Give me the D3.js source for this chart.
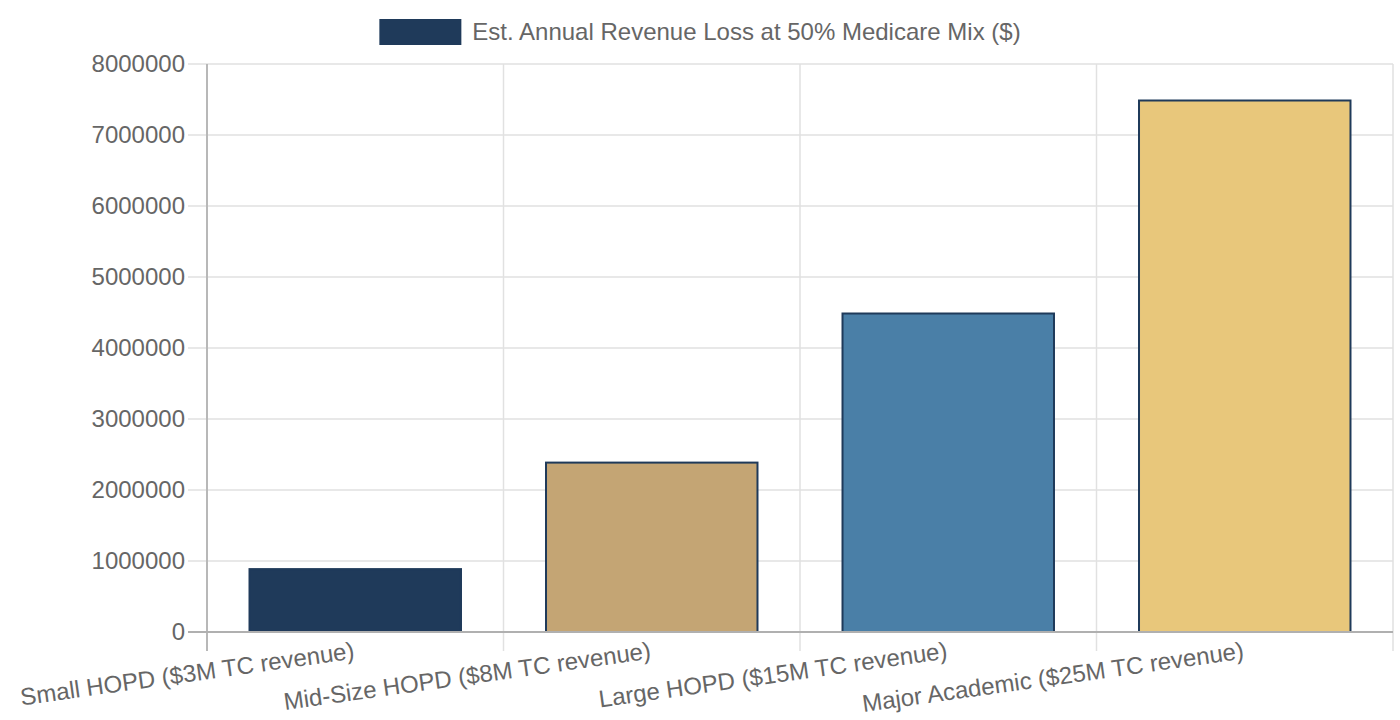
<!DOCTYPE html>
<html>
<head>
<meta charset="utf-8">
<script src="https://cdn.jsdelivr.net/npm/d3@7"></script>
<style>
  body { margin: 0; background: #fff; }
  svg { display: block; font-family: "Liberation Sans", Arial, sans-serif; }
</style>
</head>
<body>
<div id="chart"></div>
<script>
const categories = [
    'Small HOPD ($3M TC revenue)',
    'Mid-Size HOPD ($8M TC revenue)',
    'Large HOPD ($15M TC revenue)',
    'Major Academic ($25M TC revenue)'
];
const revenueLoss = [900000, 2400000, 4500000, 7500000];
const barColors = ['#1f3a5a', '#c4a574', '#4a7fa7', '#e8c77b'];
const yTicks = [0, 1000000, 2000000, 3000000, 4000000, 5000000, 6000000, 7000000, 8000000];
const seriesLabel = 'Est. Annual Revenue Loss at 50% Medicare Mix ($)';

const width = 1400, height = 720;
const margin = { top: 64, right: 7, bottom: 88, left: 207 };
const innerWidth = width - margin.left - margin.right;
const innerHeight = height - margin.top - margin.bottom;
const tickLen = 19;

const svg = d3.select('#chart').append('svg')
    .attr('width', width)
    .attr('height', height);

const g = svg.append('g')
    .attr('transform', `translate(${margin.left},${margin.top})`);

const x = d3.scaleBand()
    .domain(categories)
    .range([0, innerWidth])
    .paddingInner(0)
    .paddingOuter(0);

const y = d3.scaleLinear()
    .domain([0, 8000000])
    .range([innerHeight, 0]);

// grid lines
g.append('g').selectAll('line')
    .data(yTicks)
    .join('line')
    .attr('x1', -tickLen).attr('x2', innerWidth)
    .attr('y1', d => y(d)).attr('y2', d => y(d))
    .attr('stroke', '#e1e1e1')
    .attr('stroke-width', 1.5);

const edges = categories.map(c => x(c)).concat([innerWidth]);
g.append('g').selectAll('line')
    .data(edges)
    .join('line')
    .attr('x1', d => d).attr('x2', d => d)
    .attr('y1', 0).attr('y2', innerHeight + tickLen)
    .attr('stroke', '#e1e1e1')
    .attr('stroke-width', 1.5);

// bars (72% of the category, like chart.js defaults), border drawn inside
const barW = x.bandwidth() * 0.72;
const bw = 2;
g.append('g').selectAll('rect')
    .data(revenueLoss)
    .join('rect')
    .attr('x', (d, i) => x(categories[i]) + (x.bandwidth() - barW) / 2 + bw / 2)
    .attr('y', d => y(d) + bw / 2)
    .attr('width', barW - bw)
    .attr('height', d => innerHeight - y(d) - bw / 2)
    .attr('fill', (d, i) => barColors[i])
    .attr('stroke', '#1f3a5a')
    .attr('stroke-width', bw);

// axes lines
g.append('line')
    .attr('x1', 0).attr('x2', 0)
    .attr('y1', 0).attr('y2', innerHeight + tickLen)
    .attr('stroke', '#b8b8b8').attr('stroke-width', 2);
g.append('line')
    .attr('x1', -tickLen).attr('x2', innerWidth)
    .attr('y1', innerHeight).attr('y2', innerHeight)
    .attr('stroke', '#b0b0b0').attr('stroke-width', 2);

// y labels
g.append('g').selectAll('text')
    .data(yTicks)
    .join('text')
    .attr('x', -22)
    .attr('y', d => y(d))
    .attr('dy', '0.35em')
    .attr('text-anchor', 'end')
    .attr('fill', '#666')
    .style('font-size', '24px')
    .text(d => d3.format('d')(d));

// x labels, rotated
g.append('g').selectAll('text')
    .data(categories)
    .join('text')
    .attr('transform', d => `translate(${x(d) + x.bandwidth() / 2},${innerHeight + 26.5}) rotate(-8)`)
    .attr('text-anchor', 'end')
    .attr('fill', '#666')
    .style('font-size', '24px')
    .text(d => d);

// legend
const legend = svg.append('g');
const legendText = legend.append('text')
    .attr('y', 32)
    .attr('dy', '0.35em')
    .attr('fill', '#666')
    .style('font-size', '24px')
    .text(seriesLabel);
const tw = legendText.node().getComputedTextLength();
const boxW = 82, gap = 11;
const startX = (width - (boxW + gap + tw)) / 2;
legend.append('rect')
    .attr('x', startX).attr('y', 19)
    .attr('width', boxW).attr('height', 26)
    .attr('fill', barColors[0]);
legendText.attr('x', startX + boxW + gap);
</script>
</body>
</html>
